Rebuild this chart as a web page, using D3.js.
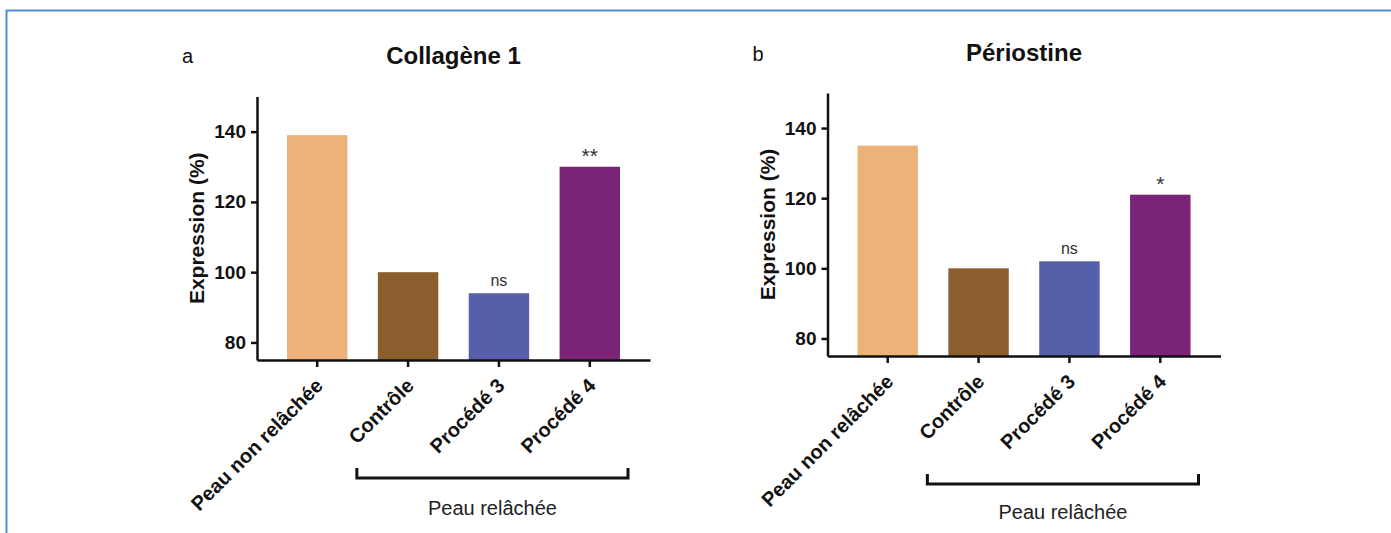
<!DOCTYPE html>
<html lang="fr">
  <head>
    <meta charset="UTF-8" />
    <title>Collagène 1 / Périostine</title>
    <script src="https://d3js.org/d3.v7.min.js"></script>
    <style>
      body {
        margin: 0;
        background: #fff;
      }
      svg {
        display: block;
        font-family: "Liberation Sans", Arial, sans-serif;
      }
    </style>
  </head>
  <body>
    <div class="chart"></div>
  </body>

  <script>
    // data
    var categories = ["Peau non relâchée", "Contrôle", "Procédé 3", "Procédé 4"];
    var colors = ["#ecb27a", "#8b5f2d", "#5660aa", "#7a2378"];
    var collagene = [139, 100, 94, 130];
    var periostine = [135, 100, 102, 121];
    var signifCollagene = ["", "", "ns", "**"];
    var signifPeriostine = ["", "", "ns", "*"];
    var yTicks = [80, 100, 120, 140];
    var yDomain = [75, 150];

    var W = 1391, H = 533;

    var svg = d3
      .select(".chart")
      .append("svg")
      .attr("width", W)
      .attr("height", H);

    // blue frame of the figure
    svg
      .append("rect")
      .attr("x", 6.5)
      .attr("y", 10.5)
      .attr("width", W)
      .attr("height", H)
      .attr("fill", "none")
      .attr("stroke", "#4a8fd8")
      .attr("stroke-width", 2);

    var panels = [
      { letter: "a", title: "Collagène 1", values: collagene, signif: signifCollagene,
        x0: 257, top: 96.5, base: 360, titleY: 64, letterY: 63, bracketY: 478, groupY: 515 },
      { letter: "b", title: "Périostine", values: periostine, signif: signifPeriostine,
        x0: 827.5, top: 93, base: 356, titleY: 61, letterY: 61, bracketY: 484, groupY: 519 },
    ];

    panels.forEach(drawPanel);

    function drawPanel(p) {
      var g = svg.append("g");
      var plotW = 393;

      var x = d3
        .scaleBand()
        .domain(categories)
        .range([p.x0, p.x0 + plotW])
        .paddingInner(0.335)
        .paddingOuter(0.33);

      var y = d3.scaleLinear().domain(yDomain).range([p.base, p.top]);

      // bars
      g.selectAll("rect.bar")
        .data(p.values)
        .enter()
        .append("rect")
        .attr("class", "bar")
        .attr("x", function (d, i) { return x(categories[i]); })
        .attr("width", x.bandwidth())
        .attr("y", function (d) { return y(d); })
        .attr("height", function (d) { return y(yDomain[0]) - y(d); })
        .attr("fill", function (d, i) { return colors[i]; });

      // significance marks (asterisks drawn a bit bigger, they're tiny in Arial)
      g.selectAll("text.sig")
        .data(p.values)
        .enter()
        .append("text")
        .attr("class", "sig")
        .attr("x", function (d, i) { return x(categories[i]) + x.bandwidth() / 2; })
        .attr("y", function (d, i) { return y(d) - (p.signif[i] == "ns" ? 7 : 4); })
        .attr("text-anchor", "middle")
        .attr("font-size", function (d, i) { return p.signif[i] == "ns" ? 16 : 21; })
        .attr("fill", "#333")
        .text(function (d, i) { return p.signif[i]; });

      // y axis
      var yAxis = g
        .append("g")
        .attr("transform", "translate(" + p.x0 + ",0)")
        .call(d3.axisLeft(y).tickValues(yTicks).tickSize(6).tickSizeOuter(0).tickPadding(5));
      yAxis.selectAll("path, line").attr("stroke", "#111").attr("stroke-width", 2.5);
      yAxis
        .selectAll("text")
        .attr("font-size", 19)
        .attr("font-weight", "bold")
        .attr("font-family", "Liberation Sans, Arial, sans-serif")
        .attr("fill", "#111");

      // x axis
      var xAxis = g
        .append("g")
        .attr("transform", "translate(0," + p.base + ")")
        .call(d3.axisBottom(x).tickSize(7).tickSizeOuter(0));
      xAxis.selectAll("path, line").attr("stroke", "#111").attr("stroke-width", 2.5);
      xAxis
        .selectAll("text")
        .attr("x", 0)
        .attr("y", 0)
        .attr("dy", "0.35em")
        .attr("transform", "translate(2,22) rotate(-45)")
        .attr("text-anchor", "end")
        .attr("font-size", 20)
        .attr("font-weight", "bold")
        .attr("font-family", "Liberation Sans, Arial, sans-serif")
        .attr("fill", "#111");

      // y label
      g.append("text")
        .attr("transform", "translate(" + (p.x0 - 53) + "," + (p.top + p.base) / 2 + ") rotate(-90)")
        .attr("text-anchor", "middle")
        .attr("font-size", 21)
        .attr("font-weight", "bold")
        .attr("fill", "#111")
        .text("Expression (%)");

      // title + panel letter
      g.append("text")
        .attr("x", p.x0 + plotW / 2)
        .attr("y", p.titleY)
        .attr("text-anchor", "middle")
        .attr("font-size", 24)
        .attr("font-weight", "bold")
        .attr("fill", "#111")
        .text(p.title);

      g.append("text")
        .attr("x", p.x0 - 75)
        .attr("y", p.letterY)
        .attr("font-size", 20)
        .attr("fill", "#111")
        .text(p.letter);

      // bracket under "Peau relâchée" groups
      var bx1 = x(categories[1]) - 21;
      var bx2 = x(categories[3]) + x.bandwidth() + 8;
      g.append("path")
        .attr("d", "M" + bx1 + "," + (p.bracketY - 10) + "V" + p.bracketY + "H" + bx2 + "V" + (p.bracketY - 10))
        .attr("fill", "none")
        .attr("stroke", "#111")
        .attr("stroke-width", 3);

      g.append("text")
        .attr("x", (bx1 + bx2) / 2)
        .attr("y", p.groupY)
        .attr("text-anchor", "middle")
        .attr("font-size", 20)
        .attr("fill", "#222")
        .text("Peau relâchée");
    }
  </script>
</html>
